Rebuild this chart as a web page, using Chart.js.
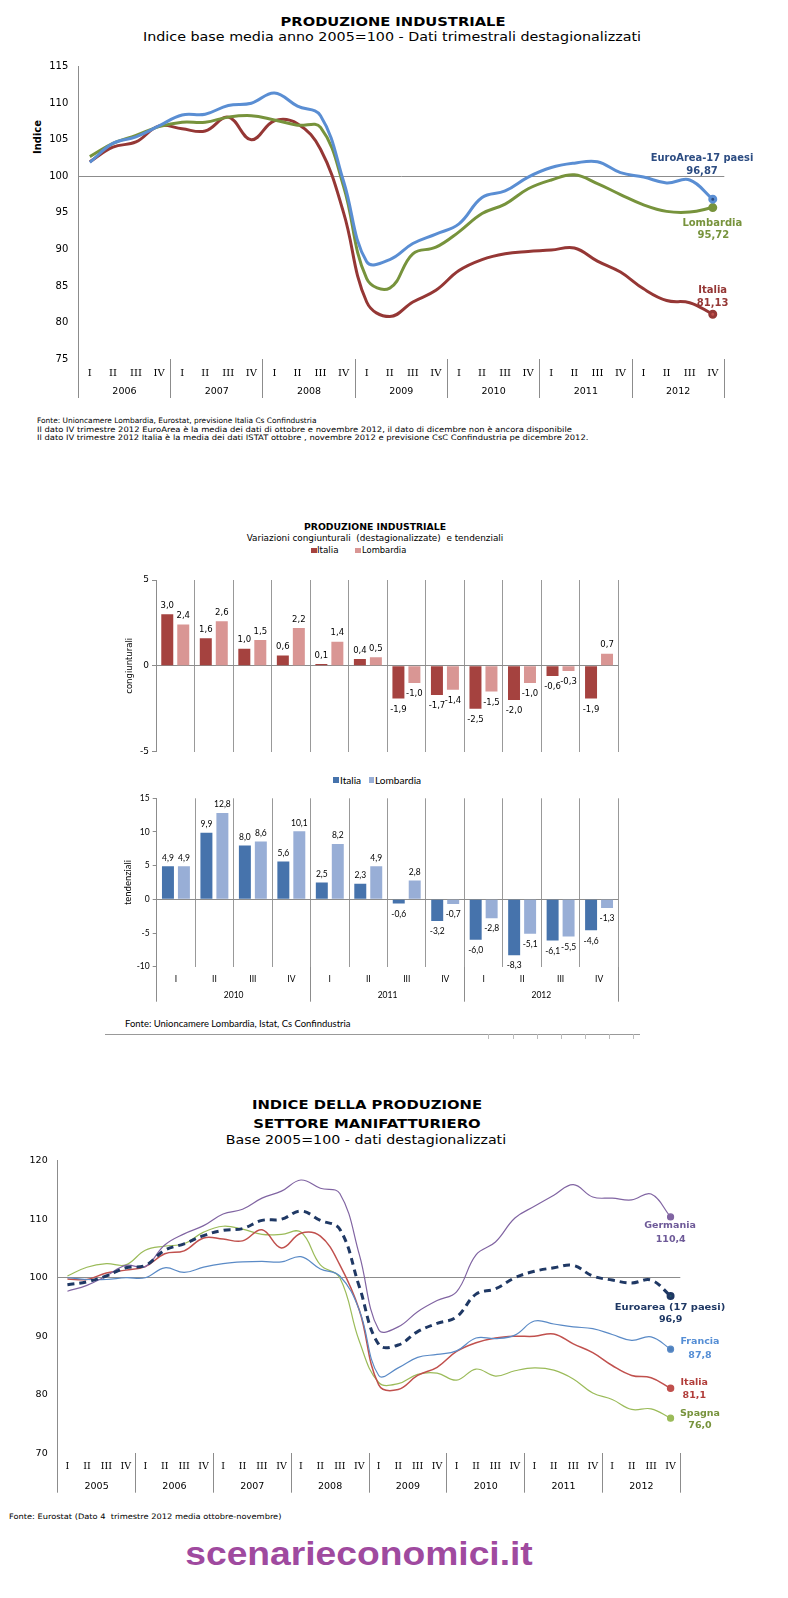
<!DOCTYPE html>
<html><head><meta charset="utf-8">
<script src="https://cdn.jsdelivr.net/npm/chart.js@4.4.1/dist/chart.umd.min.js"></script>
<style>
html,body{margin:0;padding:0;background:#fff;}
#page{position:relative;width:788px;height:1598px;overflow:hidden;background:#fff;}
#page canvas{position:absolute;}
.t{position:absolute;white-space:pre;line-height:1;}
.sq{position:absolute;}
</style></head><body><div id="page"></div>
<script>
// ---------- DATA ----------
const quarters = ['I','II','III','IV'];

// Chart 1: Produzione industriale, indice 2005=100
const years1 = ['2006','2007','2008','2009','2010','2011','2012'];
const euroArea1 = [101.9,104.5,105.4,106.9, 108.4,108.5,109.7,110.0, 111.4,109.6,108.3,99.3, 88.3,88.6,90.8,92.1, 93.5,97.1,98.0,99.9, 101.2,101.8,102.0,100.5, 99.9,99.1,99.5,96.87];
const lombardia1 = [102.7,104.5,105.6,106.8, 107.4,107.4,108.1,108.3, 107.7,107.0,106.7,98.6, 86.0,84.7,89.4,90.3, 92.4,94.9,96.2,98.3, 99.5,100.2,99.0,97.5, 96.1,95.2,95.1,95.72];
const italia1 = [102.0,104.0,104.7,106.9, 106.5,106.2,108.1,105.0, 107.6,107.2,103.7,95.0, 82.8,80.8,82.8,84.4, 87.1,88.6,89.4,89.7, 89.9,90.2,88.4,86.9, 84.6,83.0,82.7,81.13];

// Chart 2: variazioni congiunturali e tendenziali
const years2 = ['2010','2011','2012'];
const congItalia    = [3.0,1.6,1.0,0.6, 0.1,0.4,-1.9,-1.7, -2.5,-2.0,-0.6,-1.9];
const congLombardia = [2.4,2.6,1.5,2.2, 1.4,0.5,-1.0,-1.4, -1.5,-1.0,-0.3,0.7];
const tendItalia    = [4.9,9.9,8.0,5.6, 2.5,2.3,-0.6,-3.2, -6.0,-8.3,-6.1,-4.6];
const tendLombardia = [4.9,12.8,8.6,10.1, 8.2,4.9,2.8,-0.7, -2.8,-5.1,-5.5,-1.3];

// Chart 3: settore manifatturiero
const years3 = ['2005','2006','2007','2008','2009','2010','2011','2012'];
const euroarea3 = [98.8,99.3,100.3,101.7, 102.1,104.7,105.8,107.2, 108.1,108.4,109.8,110.0, 111.4,109.8,108.3,98.5, 88.6,88.5,90.8,92.2, 93.3,97.2,98.1,100.0, 101.1,101.7,102.1,100.3, 99.6,99.1,99.6,96.9];
const germania3 = [97.7,98.7,100.3,102.1, 101.9,105.6,107.5,108.9, 110.9,111.7,113.6,114.8, 116.7,115.3,114.4,104.0, 91.1,91.6,94.2,96.1, 97.6,103.9,106.1,110.2, 112.2,114.1,115.9,113.8, 113.6,113.3,114.3,110.4];
const francia3 = [100.0,99.7,99.7,100.0, 100.0,101.7,100.9,101.8, 102.4,102.7,102.8,102.7, 103.6,101.5,100.3,94.5, 83.3,84.6,86.4,86.9, 87.5,89.7,89.6,90.2, 92.6,92.1,91.6,91.3, 90.3,89.3,89.9,87.8];
const italia3 = [99.8,99.7,100.8,101.3, 101.9,104.1,104.6,106.8, 106.6,106.3,108.2,105.1, 107.6,107.1,102.2,94.5, 81.7,80.9,83.3,84.7, 87.4,88.9,89.7,90.0, 90.0,90.4,88.7,87.2, 85.0,83.3,82.9,81.1];
const spagna3 = [100.3,101.8,102.4,102.2, 104.7,105.4,105.8,107.8, 108.8,108.3,107.4,107.4, 107.8,102.2,100.0,89.2, 82.1,81.9,83.5,83.7, 82.5,84.4,83.2,84.1, 84.6,84.2,82.7,80.3, 79.2,77.5,77.6,76.0];

// ---------- HELPERS ----------
const page = document.getElementById('page');
const GRAY = '#8c8c8c', NONE = 'rgba(0,0,0,0)';
const DV = '"DejaVu Sans", sans-serif';
const fmt = (v, d) => v.toFixed(d).replace('.', ',');
const texts = [];
function addText(str, x, y, o) {
  o = o || {};
  const d = document.createElement('div');
  d.className = 't';
  d.textContent = str;
  d.style.font = (o.bold ? 'bold ' : '') + o.size + 'px ' + (o.font || DV);
  d.style.color = o.color || '#000';
  d.style.left = x + 'px';
  d.style.top = y + 'px';
  page.appendChild(d);
  texts.push({d, o});
}
function fitTexts() {
  for (const {d, o} of texts) {
    const w = d.offsetWidth;
    let s = o.w ? o.w / w : 1;
    s = Math.max(0.6, Math.min(1.4, s));
    if (o.rot) d.style.transform = 'translate(-50%,-50%) rotate(-90deg)';
    else if (o.align === 'left') { d.style.transformOrigin = '0 50%'; d.style.transform = 'translateY(-50%) scaleX(' + s + ')'; }
    else d.style.transform = 'translate(-50%,-50%) scaleX(' + s + ')';
  }
}
function addBox(x, y, w, h, color) {
  const b = document.createElement('div');
  b.className = 'sq';
  b.style.left = x + 'px'; b.style.top = y + 'px';
  b.style.width = w + 'px'; b.style.height = h + 'px';
  b.style.background = color;
  page.appendChild(b);
}
function makeCanvas(left, top, w, h) {
  const c = document.createElement('canvas');
  c.width = w; c.height = h;
  c.style.left = left + 'px'; c.style.top = top + 'px';
  c.style.width = w + 'px'; c.style.height = h + 'px';
  page.appendChild(c);
  return c;
}
const yearTick = c => (c.index === undefined || c.index % 4 === 0) ? GRAY : NONE;
const lastOnly = (r) => (ctx) => ctx.dataIndex === ctx.dataset.data.length - 1 ? r : 0;
const qLabels = ys => ys.flatMap(() => quarters);

const barLabels = {
  id: 'barLabels',
  afterDatasetsDraw(chart, args, opts) {
    const ctx = chart.ctx;
    ctx.save();
    ctx.font = opts.font; ctx.fillStyle = '#000';
    ctx.textAlign = 'center'; ctx.textBaseline = 'middle';
    chart.data.datasets.forEach((ds, di) => {
      chart.getDatasetMeta(di).data.forEach((el, i) => {
        const v = ds.data[i];
        const y = v >= 0 ? el.y - opts.up : el.y + opts.down;
        ctx.fillText(fmt(v, 1), el.x, y);
      });
    });
    ctx.restore();
  }
};
Chart.defaults.animation = false;
Chart.defaults.plugins.tooltip.enabled = false;
Chart.defaults.plugins.legend.display = false;

// ---------- CHART 1 ----------
addText('PRODUZIONE INDUSTRIALE', 392.7, 20.7, {bold: true, size: 13, w: 225});
addText('Indice base media anno 2005=100 - Dati trimestrali destagionalizzati', 392, 36, {size: 13, w: 498});
addText('Indice', 36.7, 136.7, {bold: true, size: 10, rot: true});

const c1 = makeCanvas(0, 0, 788, 410);
new Chart(c1, {
  type: 'line',
  data: {
    labels: qLabels(years1),
    datasets: [
      {data: euroArea1, borderColor: '#5A8ED3', backgroundColor: '#2C4C82', pointBackgroundColor: '#2C4C82', borderWidth: 3},
      {data: lombardia1, borderColor: '#77933C', backgroundColor: '#77933C', pointBackgroundColor: '#77933C', borderWidth: 3},
      {data: italia1, borderColor: '#953735', backgroundColor: '#C0504D', pointBackgroundColor: '#C0504D', borderWidth: 3}
    ]
  },
  options: {
    responsive: false,
    layout: {padding: {left: 0, right: 63.7, top: 66.7, bottom: 10}},
    elements: {line: {tension: 0.4}, point: {radius: lastOnly(3), hoverRadius: 0, borderWidth: 0}},
    scales: {
      x: {offset: true, grid: {offset: true, drawOnChartArea: false, tickLength: 39, tickColor: yearTick, color: GRAY},
          border: {display: false},
          ticks: {font: {family: '"DejaVu Serif", serif', size: 10}, color: '#000', padding: -31, autoSkip: false, maxRotation: 0},
          afterFit: s => { s.height = 20; }},
      x2: {type: 'category', labels: years1, offset: true, position: 'bottom', weight: 1,
           grid: {display: false, drawTicks: false}, border: {display: false},
           ticks: {font: {family: DV, size: 9.5}, color: '#000', padding: 7.3},
           afterFit: s => { s.height = 21; }},
      y: {min: 75, max: 115, ticks: {stepSize: 5, font: {family: DV, size: 10}, color: '#000', padding: 10},
          grid: {drawTicks: false, color: c => c.tick && c.tick.value === 100 ? GRAY : NONE},
          border: {color: GRAY},
          afterFit: s => { s.width = 78.3; }}
    }
  }
});
addText('EuroArea-17 paesi', 702, 157.3, {bold: true, size: 10, color: '#2C4C82', w: 103});
addText(fmt(euroArea1[euroArea1.length - 1], 2), 702, 170.3, {bold: true, size: 10, color: '#2C4C82'});
addText('Lombardia', 712.3, 221.7, {bold: true, size: 10, color: '#77933C'});
addText(fmt(lombardia1[lombardia1.length - 1], 2), 713.3, 234.3, {bold: true, size: 10, color: '#77933C'});
addText('Italia', 712.7, 289.3, {bold: true, size: 10, color: '#953735'});
addText(fmt(italia1[italia1.length - 1], 2), 712.7, 302.3, {bold: true, size: 10, color: '#953735'});

addText('Fonte: Unioncamere Lombardia, Eurostat, previsione Italia Cs Confindustria', 37, 420, {size: 7.5, align: 'left', w: 279});
addText('Il dato IV trimestre 2012 EuroArea è la media dei dati di ottobre e novembre 2012, il dato di dicembre non è ancora disponibile', 37, 428.5, {size: 7.5, align: 'left', w: 535});
addText('Il dato IV trimestre 2012 Italia è la media dei dati ISTAT ottobre , novembre 2012 e previsione CsC Confindustria pe dicembre 2012.', 37, 437, {size: 7.5, align: 'left', w: 551});

// ---------- CHART 2a ----------
addText('PRODUZIONE INDUSTRIALE', 374.7, 525.7, {bold: true, size: 9.5, w: 141.7});
addText('Variazioni congiunturali  (destagionalizzate)  e tendenziali', 375, 537, {size: 9.5, w: 257});
addBox(311, 547.5, 5.5, 5.5, '#A5423F');
addText('Italia', 317, 550, {size: 8.5, align: 'left', w: 21.6});
addBox(355, 547.5, 5.5, 5.5, '#D99694');
addText('Lombardia', 361.7, 550, {size: 8.5, align: 'left', w: 44.3});

const c2a = makeCanvas(0, 560, 788, 200);
new Chart(c2a, {
  type: 'bar',
  data: {
    labels: qLabels(years2),
    datasets: [
      {label: 'Italia', data: congItalia, backgroundColor: '#A5423F'},
      {label: 'Lombardia', data: congLombardia, backgroundColor: '#D99694'}
    ]
  },
  options: {
    responsive: false,
    datasets: {bar: {categoryPercentage: 0.83, barPercentage: 0.75}},
    layout: {padding: {left: 120.9, right: 169.7, top: 20, bottom: 6.7}},
    plugins: {barLabels: {font: '8.5px ' + DV, up: 8.5, down: 11}},
    scales: {
      x: {offset: true, grid: {offset: true, color: '#999', drawTicks: false}, border: {display: false},
          ticks: {display: false}, afterFit: s => { s.height = 0; }},
      y: {min: -5, max: 5, ticks: {stepSize: 5, font: {family: DV, size: 9}, color: '#000', padding: 3},
          grid: {color: c => c.tick && c.tick.value === 0 ? GRAY : NONE, tickColor: GRAY, tickLength: 4},
          border: {color: GRAY},
          title: {display: true, text: 'congiunturali', font: {family: DV, size: 8.5}, color: '#000'},
          afterFit: s => { s.width = 35.1; }}
    }
  },
  plugins: [barLabels]
});

// ---------- CHART 2b ----------
const LATO = 'Lato, "Liberation Sans", sans-serif';
addBox(333.3, 777.3, 5.7, 5.7, '#4673AC');
addText('Italia', 339.5, 780, {size: 9, font: LATO, align: 'left', w: 21.3});
addBox(368.7, 777.3, 5.7, 5.7, '#98AED6');
addText('Lombardia', 374.7, 780, {size: 9, font: LATO, align: 'left', w: 46});

const c2b = makeCanvas(0, 790, 788, 220);
new Chart(c2b, {
  type: 'bar',
  data: {
    labels: qLabels(years2),
    datasets: [
      {label: 'Italia', data: tendItalia, backgroundColor: '#4673AC'},
      {label: 'Lombardia', data: tendLombardia, backgroundColor: '#98AED6'}
    ]
  },
  options: {
    responsive: false,
    datasets: {bar: {categoryPercentage: 0.83, barPercentage: 0.75}},
    layout: {padding: {left: 118.6, right: 169.7, top: 8.3, bottom: 5.3}},
    plugins: {barLabels: {font: '8.5px ' + LATO, up: 8.5, down: 10.5}},
    scales: {
      x: {offset: true, grid: {offset: true, color: '#999', tickColor: yearTick, tickLength: 35},
          border: {display: false},
          ticks: {font: {family: LATO, size: 8.5}, color: '#000', padding: -27.8, autoSkip: false, maxRotation: 0},
          afterFit: s => { s.height = 20; }},
      x2: {type: 'category', labels: years2, offset: true, position: 'bottom', weight: 1,
           grid: {display: false, drawTicks: false}, border: {display: false},
           ticks: {font: {family: LATO, size: 8.5}, color: '#000', padding: 3.9},
           afterFit: s => { s.height = 18; }},
      y: {min: -10, max: 15, ticks: {stepSize: 5, font: {family: LATO, size: 8.5}, color: '#000', padding: 3},
          grid: {color: c => c.tick && c.tick.value === 0 ? GRAY : NONE, tickColor: GRAY, tickLength: 4},
          border: {color: GRAY},
          title: {display: true, text: 'tendenziali', font: {family: LATO, size: 9.5}, color: '#000'},
          afterFit: s => { s.width = 38.1; }}
    }
  },
  plugins: [barLabels]
});
addText('Fonte: Unioncamere Lombardia, Istat, Cs Confindustria', 124.8, 1022.7, {size: 9, font: LATO, align: 'left', w: 226});
addBox(105, 1034, 535, 1, '#999');
[488, 513, 537, 561, 585, 609, 633].forEach(x => addBox(x, 1034, 1, 5, '#bbb'));

// ---------- CHART 3 ----------
addText('INDICE DELLA PRODUZIONE', 367, 1104.3, {bold: true, size: 13, w: 230});
addText('SETTORE MANIFATTURIERO', 367, 1122.7, {bold: true, size: 13, w: 227});
addText('Base 2005=100 - dati destagionalizzati', 366, 1139, {size: 13, w: 280});

const c3 = makeCanvas(0, 1145, 788, 355);
new Chart(c3, {
  type: 'line',
  data: {
    labels: qLabels(years3),
    datasets: [
      {data: euroarea3, borderColor: '#1F3864', pointBackgroundColor: '#215968', borderWidth: 3, borderDash: [7, 5], pointRadius: lastOnly(2.5)},
      {data: germania3, borderColor: '#8064A2', pointBackgroundColor: '#8064A2', borderWidth: 1.2},
      {data: francia3, borderColor: '#5A8AC6', pointBackgroundColor: '#4F81BD', borderWidth: 1.2},
      {data: italia3, borderColor: '#C0504D', pointBackgroundColor: '#C0504D', borderWidth: 1.5},
      {data: spagna3, borderColor: '#9BBB59', pointBackgroundColor: '#9BBB59', borderWidth: 1.2}
    ]
  },
  options: {
    responsive: false,
    layout: {padding: {left: 0, right: 107.7, top: 8.3, bottom: 5.7}},
    elements: {line: {tension: 0.4}, point: {radius: lastOnly(3), hoverRadius: 0, borderWidth: 0}},
    scales: {
      x: {offset: true, grid: {offset: true, drawOnChartArea: false, tickLength: 39.4, tickColor: yearTick, color: GRAY},
          border: {display: false},
          ticks: {font: {family: '"DejaVu Serif", serif', size: 9.5}, color: '#000', padding: -31.7, autoSkip: false, maxRotation: 0},
          afterFit: s => { s.height = 20; }},
      x2: {type: 'category', labels: years3, offset: true, position: 'bottom', weight: 1,
           grid: {display: false, drawTicks: false}, border: {display: false},
           ticks: {font: {family: DV, size: 9.5}, color: '#000', padding: 7.3},
           afterFit: s => { s.height = 21; }},
      y: {min: 70, max: 120, ticks: {stepSize: 10, font: {family: DV, size: 9.5}, color: '#000', padding: 10},
          grid: {drawTicks: false, color: c => c.tick && c.tick.value === 100 ? GRAY : NONE},
          border: {color: GRAY},
          afterFit: s => { s.width = 57.7; }}
    }
  }
});
addText('Germania', 670, 1224.3, {bold: true, size: 9.5, color: '#6E5A98'});
addText(fmt(germania3[germania3.length - 1], 1), 670.7, 1237.7, {bold: true, size: 9.5, color: '#6E5A98'});
addText('Euroarea (17 paesi)', 670, 1305.7, {bold: true, size: 9.5, color: '#1F3864', w: 111});
addText(fmt(euroarea3[euroarea3.length - 1], 1), 670.7, 1318.3, {bold: true, size: 9.5, color: '#1F3864'});
addText('Francia', 700, 1340.3, {bold: true, size: 9.5, color: '#558ED5'});
addText(fmt(francia3[francia3.length - 1], 1), 700, 1353.7, {bold: true, size: 9.5, color: '#558ED5'});
addText('Italia', 694.3, 1380.7, {bold: true, size: 9.5, color: '#B13D3A'});
addText(fmt(italia3[italia3.length - 1], 1), 694.3, 1393.7, {bold: true, size: 9.5, color: '#B13D3A'});
addText('Spagna', 700, 1411.7, {bold: true, size: 9.5, color: '#77933C'});
addText(fmt(spagna3[spagna3.length - 1], 1), 700, 1424.3, {bold: true, size: 9.5, color: '#77933C'});

addText('Fonte: Eurostat (Dato 4  trimestre 2012 media ottobre-novembre)', 9, 1516, {size: 7.5, align: 'left', w: 272});
addText('scenarieconomici.it', 358.5, 1553.3, {bold: true, size: 34, font: '"Liberation Sans", Arial, sans-serif', color: '#9F4A9F', w: 347});

fitTexts();
</script>
</body></html>
